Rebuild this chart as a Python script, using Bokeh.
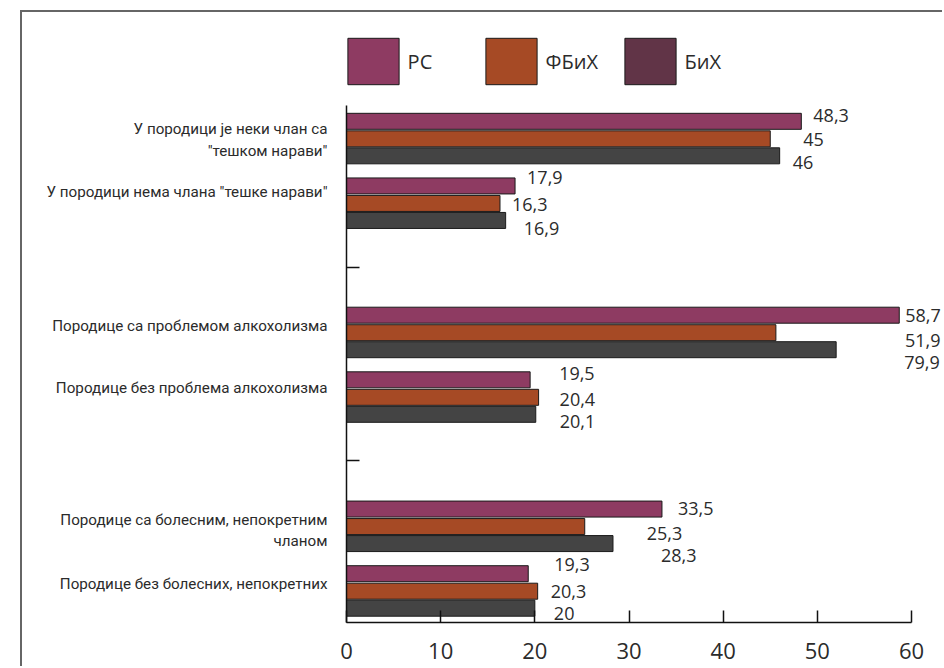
from bokeh.plotting import figure
from bokeh.models import Range1d, FixedTicker, Legend, LegendItem, ColumnDataSource
from bokeh.core.properties import value
from bokeh.embed import file_html
from bokeh.resources import INLINE

# ---------------- data ----------------
categories = [
    "У породици је неки члан са\n\"тешком нарави\"",
    "У породици нема члана \"тешке нарави\"",
    "Породице са проблемом алкохолизма",
    "Породице без проблема алкохолизма",
    "Породице са болесним, непокретним\nчланом",
    "Породице без болесних, непокретних",
]
series = ["РС", "ФБиХ", "БиХ"]
rs_values = [48.3, 17.9, 58.7, 19.5, 33.5, 19.3]
fbih_values = [45.0, 16.3, 45.6, 20.4, 25.3, 20.3]
bih_values = [46.0, 16.9, 52.0, 20.1, 28.3, 20.0]
rs_labels = ["48,3", "17,9", "58,7", "19,5", "33,5", "19,3"]
fbih_labels = ["45", "16,3", "51,9", "20,4", "25,3", "20,3"]
bih_labels = ["46", "16,9", "79,9", "20,1", "28,3", "20"]
x_ticks = [0, 10, 20, 30, 40, 50, 60]

# ---------------- style / layout ----------------
bar_colors = ["#8E3B62", "#A64A25", "#444444"]
legend_colors = ["#8E3B62", "#A64A25", "#613447"]
W, H = 922, 656                 # figure sits at page (22, 12), framed by a grey edge
FRAME_L, FRAME_B = 324, 46
PX_PER_SLOT = 517 / 8
FRAME_H = H - FRAME_B
bar_off_px = [-16.5, 1.0, 18.0]
bar_h_px = 16
rs_dx = [12, 12, 6, 29, 16, 26]
rs_dy = [-6, -8, 0, -6, -1, -9]
fbih_dx = [33, 12, 129, 21, 62, 13]
fbih_dy = [1, 1, 8, 2, 7, 0]
bih_dx = [13, 18, 68, 24, 48, 19]
bih_dy = [7, 8, 13, 7, 12, 5]
cat_label_dy_px = [2, -10, -6, -8, 5, -6]
legend_left_px = [-5.4, 132.6, 271.6]
legend_bottom_px = 532

CAT_FONT = "Roboto"
NUM_FONT = "Open Sans"
TXT = "#2b2b2b"

# slot index of each category (empty slot after each pair)
slots = [i + i // 2 for i in range(len(categories))]
centers = [s + 0.5 for s in slots]

p = figure(width=W, height=H, output_backend="svg", toolbar_location=None,
           x_range=Range1d(0, (W - FRAME_L) / (565 / 60)),
           y_range=Range1d(8, 8 - FRAME_H / PX_PER_SLOT),
           min_border_left=FRAME_L, min_border_right=0, min_border_top=0,
           min_border_bottom=FRAME_B)
p.outline_line_color = None
p.grid.visible = False
p.background_fill_color = "white"
p.border_fill_color = "white"
p.styles = {"margin-left": "22px", "margin-top": "12px",
            "box-shadow": "-2px -2px 0px 0px #666666"}

all_values = [rs_values, fbih_values, bih_values]
all_labels = [rs_labels, fbih_labels, bih_labels]
all_dx = [rs_dx, fbih_dx, bih_dx]
all_dy = [rs_dy, fbih_dy, bih_dy]

bar_renderers = []
for k in range(3):
    ys = [c + bar_off_px[k] / PX_PER_SLOT for c in centers]
    src = ColumnDataSource(dict(y=ys, right=all_values[k], lbl=all_labels[k],
                                dx=all_dx[k], dy=all_dy[k]))
    r = p.hbar(y="y", left=0, right="right", height=bar_h_px / PX_PER_SLOT, source=src,
               fill_color=bar_colors[k], line_color="#1a1a1a", line_width=1)
    bar_renderers.append(r)
    p.text(x="right", y="y", text="lbl", x_offset="dx", y_offset="dy", source=src,
           text_font=value(NUM_FONT), text_font_size="18px", text_color=TXT,
           text_align="left", text_baseline="middle")

# the source chart's legend swatch for БиХ is purple, unlike its bars
bih_swatch = p.hbar(y=[20], right=[1], height=0.1, fill_color=legend_colors[2],
                    line_color="#1a1a1a", line_width=1)
legend_renderers = [bar_renderers[0], bar_renderers[1], bih_swatch]

# legend (one per entry, exact placement); area swatches are drawn at 80% of the glyph box
for k in range(3):
    lg = Legend(items=[LegendItem(label=series[k], renderers=[legend_renderers[k]])],
                location=(legend_left_px[k], legend_bottom_px), orientation="horizontal",
                glyph_width=64, glyph_height=58, padding=0, margin=0, spacing=0,
                label_standoff=3, border_line_color=None, background_fill_alpha=0,
                label_text_font=NUM_FONT, label_text_font_size="20px",
                label_text_color=TXT)
    p.add_layout(lg)

# x axis
xa = p.xaxis[0]
xa.ticker = FixedTicker(ticks=x_ticks)
xa.bounds = (0, 60)
xa.major_tick_in = 12
xa.major_tick_out = 0
xa.minor_tick_line_color = None
xa.axis_line_width = 1.5
xa.axis_line_color = "#111111"
xa.major_tick_line_width = 1.5
xa.major_tick_line_color = "#111111"
xa.major_label_text_font = NUM_FONT
xa.major_label_text_font_size = "22px"
xa.major_label_text_color = TXT
xa.major_label_standoff = 20

# y axis
label_pos = [round(c + d / PX_PER_SLOT, 4) for c, d in zip(centers, cat_label_dy_px)]
ya = p.yaxis[0]
ya.ticker = FixedTicker(ticks=label_pos, minor_ticks=[2.5, 5.5])
ya.major_label_overrides = {pos: lab for pos, lab in zip(label_pos, categories)}
ya.bounds = (0, 8)
ya.major_tick_line_color = None
ya.minor_tick_in = 13
ya.minor_tick_out = 0
ya.minor_tick_line_width = 1.5
ya.minor_tick_line_color = "#111111"
ya.axis_line_width = 1.5
ya.axis_line_color = "#111111"
ya.major_label_text_font = CAT_FONT
ya.major_label_text_font_size = "15.2px"
ya.major_label_text_color = TXT
ya.major_label_standoff = 13

open("out.html", "w").write(file_html(p, INLINE))
